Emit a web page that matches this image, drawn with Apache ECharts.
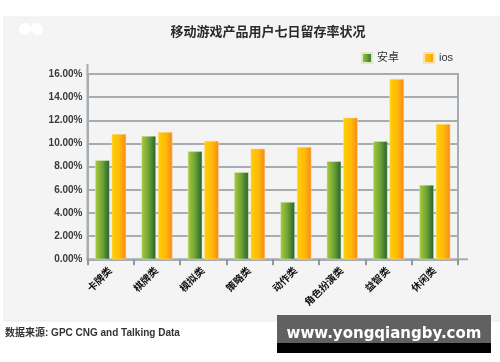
<!DOCTYPE html>
<html>
<head>
<meta charset="utf-8">
<script src="https://cdn.jsdelivr.net/npm/echarts@6/dist/echarts.min.js"></script>
<style>
html,body{margin:0;padding:0;background:#fff;}
#c{width:500px;height:362px;}
</style>
</head>
<body>
<div id="c"></div>
<script>
const categories = ['卡牌类','棋牌类','模拟类','策略类','动作类','角色扮演类','益智类','休闲类'];
const android = [8.55, 10.65, 9.32, 7.51, 4.95, 8.46, 10.19, 6.42];
const ios = [10.82, 10.99, 10.22, 9.55, 9.70, 12.23, 15.57, 11.68];
const yTicks = { min: 0, max: 16, interval: 2 };
const titleText = '移动游戏产品用户七日留存率状况';
const sourceText = '数据来源: GPC CNG and Talking Data';
const watermarkText = 'www.yongqiangby.com';

const chart = echarts.init(document.getElementById('c'), null, {renderer: 'canvas'});
const greenGrad = new echarts.graphic.LinearGradient(0,0,1,0,[
  {offset:0,color:'#a8cc3c'},{offset:0.5,color:'#6fa335'},{offset:1,color:'#245f2e'}]);
const orangeGrad = new echarts.graphic.LinearGradient(0,0,1,0,[
  {offset:0,color:'#ffd000'},{offset:0.55,color:'#ffb80a'},{offset:1,color:'#f7871c'}]);
const font = '"Liberation Sans", "Noto Sans CJK SC", sans-serif';

chart.setOption({
  backgroundColor: '#ffffff',
  animation: false,
  graphic: [
    {type:'rect', shape:{x:4,y:17,width:495,height:304}, style:{fill:'#f4f4f4', stroke:'#ececec', lineWidth:1}, z:-10},
    {type:'circle', shape:{cx:25,cy:29,r:6}, style:{fill:'#ffffff'}, z:-5},
    {type:'circle', shape:{cx:37,cy:29,r:6}, style:{fill:'#ffffff'}, z:-5},
    {type:'line', shape:{x1:87.5,y1:64,x2:87.5,y2:75}, style:{stroke:'#a6adb2', lineWidth:2}},
    {type:'line', shape:{x1:457,y1:259.3,x2:468,y2:259.3}, style:{stroke:'#a6adb2', lineWidth:2}},
    {type:'text', left:5, top:328, style:{text:sourceText, fill:'#333', font:'bold 10px ' + font}},
    {type:'rect', shape:{x:277,y:315,width:214,height:28}, style:{fill:'#616161'}, z:50},
    {type:'rect', shape:{x:277,y:343,width:214,height:10}, style:{fill:'#000000'}, z:50},
    {type:'text', x:384, y:334, style:{text:watermarkText, fill:'#ffffff', font:'bold 15px "DejaVu Sans", sans-serif', align:'center', verticalAlign:'middle'}, z:51}
  ],
  title: {
    text: titleText, left: 263, top: 21, textAlign: 'center',
    textStyle: {fontSize: 13, fontWeight: 'bold', color: '#2a2a2a', fontFamily: font}
  },
  legend: {
    right: 42, top: 47, itemWidth: 10, itemHeight: 10, itemGap: 24,
    icon: 'rect',
    textStyle: {fontSize: 11, color: '#333', fontFamily: font},
    data: ['安卓','ios']
  },
  grid: {
    left: 87.5, right: 42, top: 74, bottom: 102.7, show: true,
    borderColor: '#a6adb2', borderWidth: 2, backgroundColor: 'transparent'
  },
  xAxis: {
    type: 'category', data: categories,
    axisLine: {lineStyle: {color: '#a6adb2', width: 2}},
    axisTick: {show: true, length: 6, lineStyle: {color: '#8f979c', width: 2}},
    axisLabel: {rotate: 45, margin: 10, color: '#111', fontWeight: 'bold', fontSize: 10, fontFamily: font}
  },
  yAxis: {
    type: 'value', min: yTicks.min, max: yTicks.max, interval: yTicks.interval,
    axisLine: {show: true, lineStyle: {color: '#a6adb2', width: 2}},
    axisTick: {show: false},
    splitLine: {lineStyle: {color: '#a6adb2', width: 2}},
    axisLabel: {
      formatter: v => v.toFixed(2) + '%', margin: 5,
      color: '#3a3a3a', fontWeight: 'bold', fontSize: 10, fontFamily: '"Liberation Sans Narrow", "Liberation Sans", sans-serif'
    }
  },
  series: [
    {name:'安卓', type:'bar', data: android, barWidth: 14.5, barGap: '14%',
     itemStyle: {color: greenGrad, borderColor: '#dfe9c8', borderWidth: 0.5}},
    {name:'ios', type:'bar', data: ios, barWidth: 14.5,
     itemStyle: {color: orangeGrad, borderColor: '#fde1b0', borderWidth: 0.5}}
  ]
});
</script>
</body>
</html>
